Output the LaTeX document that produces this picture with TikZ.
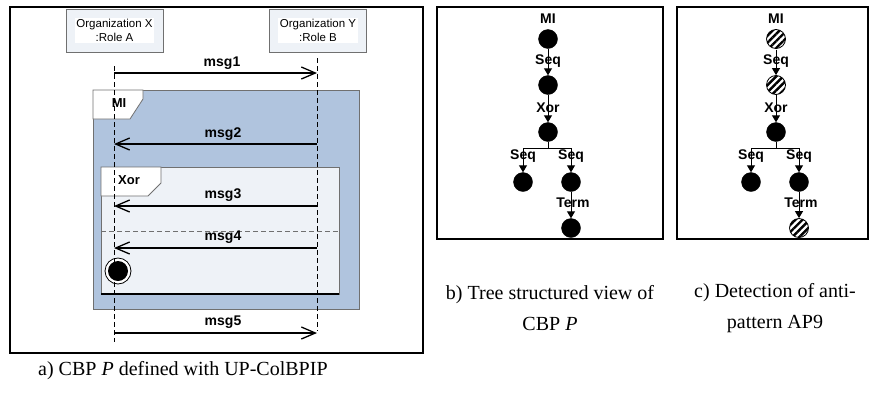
\documentclass[tikz,border=0pt]{standalone}
\usepackage{fontspec}
\setmainfont{Liberation Serif}
\newfontfamily\arialf{Liberation Sans}
\usetikzlibrary{arrows.meta,patterns.meta}
\definecolor{miblue}{HTML}{B0C4DE}
\definecolor{paleblue}{HTML}{EEF2F7}
\definecolor{framegray}{HTML}{707070}
\begin{document}
\begin{tikzpicture}[x=1pt,y=-1pt,
  panel/.style={draw=black,line width=2pt},
  orgbox/.style={draw=framegray,fill=paleblue,line width=0.8pt,minimum width=97pt,minimum height=43pt,inner sep=0pt},
  orgtext/.style={fill=white,inner sep=1.5pt,align=center,font=\arialf\fontsize{11.5}{13.5}\selectfont},
  msglbl/.style={font=\arialf\bfseries\fontsize{14}{16}\selectfont,inner sep=0pt},
  msgarrow/.style={line width=1.3pt,-{Straight Barb[length=14pt,width=12pt,line width=1.3pt]}},
  lifeline/.style={line width=0.7pt,dash pattern=on 5pt off 3pt},
  treenode/.style={circle,fill=black,draw=black,minimum size=19pt,inner sep=0pt},
  hatchnode/.style={circle,draw=black,line width=0.8pt,minimum size=19pt,inner sep=0pt,pattern={Lines[angle=45,distance=5pt,line width=2.4pt]}},
  treelbl/.style={font=\arialf\bfseries\fontsize{14}{16}\selectfont,inner sep=0pt},
  treeline/.style={line width=1pt},
  treearrow/.style={line width=1pt,-{Triangle[length=7pt,width=8pt]}},
  tablbl/.style={font=\arialf\bfseries\fontsize{13}{15}\selectfont,inner sep=0pt},
  captxt/.style={font=\fontsize{20}{31}\selectfont,align=center,inner sep=0pt}
]
\useasboundingbox (0,0) rectangle (870,400);

% ---------- panel a ----------
\draw[panel] (10,7) rectangle (423,353);

\node[orgbox] (orgx) at (114.5,30.5) {};
\node[orgtext] (orgxt) at (orgx.center) {Organization X\\:Role A};
\node[orgbox] (orgy) at (318,30.5) {};
\node[orgtext] (orgyt) at (orgy.center) {Organization Y\\:Role B};

% MI fragment
\draw[draw=framegray,fill=miblue,line width=0.8pt] (93,90) rectangle (359,309);
\draw[draw=framegray,fill=white,line width=0.8pt] (93,90) -- (143,90) -- (143,99) -- (130,119) -- (93,119) -- cycle;
\node[tablbl] (milbl) at (119,103) {MI};

% Xor fragment
\draw[draw=framegray,fill=paleblue,line width=0.8pt] (101,167) rectangle (339,294);
\draw[black,line width=1.2pt] (101,294) -- (339,294);
\draw[draw=framegray,fill=white,line width=0.8pt] (101,167) -- (161,167) -- (161,183) -- (148,196) -- (101,196) -- cycle;
\node[tablbl] (xorlbl) at (129,180) {Xor};
\draw[framegray,line width=0.8pt,dash pattern=on 5pt off 3pt] (101,231) -- (339,231);

% end state
\node[circle,draw=black,fill=white,line width=0.8pt,minimum size=26pt,inner sep=0pt] (endo) at (118,271) {};
\node[circle,fill=black,minimum size=20pt,inner sep=0pt] (endi) at (118,271) {};

% lifelines
\coordinate (xtop) at (114,66);
\coordinate (xbot) at (114,342);
\coordinate (ytop) at (317,58);
\coordinate (ybot) at (317,331);
\draw[lifeline] (xtop) -- (xbot);
\draw[lifeline] (ytop) -- (ybot);

% messages
\coordinate (m1a) at (114,73);  \coordinate (m1b) at (317,73);
\coordinate (m2a) at (114,144); \coordinate (m2b) at (317,144);
\coordinate (m3a) at (114,206); \coordinate (m3b) at (317,206);
\coordinate (m4a) at (114,248); \coordinate (m4b) at (317,248);
\coordinate (m5a) at (114,333); \coordinate (m5b) at (317,333);
\draw[msgarrow] (m1a) -- (m1b);
\draw[msgarrow] (m2b) -- (m2a);
\draw[msgarrow] (m3b) -- (m3a);
\draw[msgarrow] (m4b) -- (m4a);
\draw[msgarrow] (m5a) -- (m5b);
\node[msglbl] (l1) at (222,63) {msg1};
\node[msglbl] (l2) at (223,134) {msg2};
\node[msglbl] (l3) at (223,195) {msg3};
\node[msglbl] (l4) at (223,237) {msg4};
\node[msglbl] (l5) at (223,322) {msg5};

\node[captxt,anchor=west] (capa) at (38,371) {a) CBP \textit{P} defined with UP-ColBPIP};

% ---------- panel b ----------
\draw[panel] (437,7) rectangle (663,239);
\node[treelbl] (bMI) at (548,19) {MI};
\node[treenode] (b1) at (548,39) {};
\node[treenode] (b2) at (548,85) {};
\node[treenode] (b3) at (548,132) {};
\node[treenode] (b4) at (523,182) {};
\node[treenode] (b5) at (571,182) {};
\node[treenode] (b6) at (571,228) {};
\coordinate (bj) at (548,148);
\coordinate (bl) at (523,148);
\coordinate (br) at (571,148);
\draw[treearrow] (b1) -- (b2);
\draw[treearrow] (b2) -- (b3);
\draw[treeline] (b3) -- (bj);
\draw[treeline] (bl) -- (br);
\draw[treearrow] (bl) -- (b4);
\draw[treearrow] (br) -- (b5);
\draw[treearrow] (b5) -- (b6);
\node[treelbl] (bs1) at (548,61) {Seq};
\node[treelbl] (bx) at (548,108) {Xor};
\node[treelbl] (bs2) at (523,156) {Seq};
\node[treelbl] (bs3) at (571,156) {Seq};
\node[treelbl] (bt) at (573,203) {Term};
\node[captxt] (capb) at (550,308.5) {b) Tree structured view of\\CBP \textit{P}};

% ---------- panel c ----------
\draw[panel] (677,7) rectangle (868,239);
\node[treelbl] (cMI) at (776,19) {MI};
\node[hatchnode] (c1) at (776,39) {};
\node[hatchnode] (c2) at (776,85) {};
\node[treenode] (c3) at (776,132) {};
\node[treenode] (c4) at (751,182) {};
\node[treenode] (c5) at (799,182) {};
\node[hatchnode] (c6) at (799,228) {};
\coordinate (cj) at (776,148);
\coordinate (cl) at (751,148);
\coordinate (cr) at (799,148);
\draw[treearrow] (c1) -- (c2);
\draw[treearrow] (c2) -- (c3);
\draw[treeline] (c3) -- (cj);
\draw[treeline] (cl) -- (cr);
\draw[treearrow] (cl) -- (c4);
\draw[treearrow] (cr) -- (c5);
\draw[treearrow] (c5) -- (c6);
\node[treelbl] (cs1) at (776,61) {Seq};
\node[treelbl] (cx) at (776,108) {Xor};
\node[treelbl] (cs2) at (751,156) {Seq};
\node[treelbl] (cs3) at (799,156) {Seq};
\node[treelbl] (ct) at (801,203) {Term};
\node[captxt] (capc) at (775,308.5) {c) Detection of anti-\\pattern AP9};
\end{tikzpicture}
\end{document}
